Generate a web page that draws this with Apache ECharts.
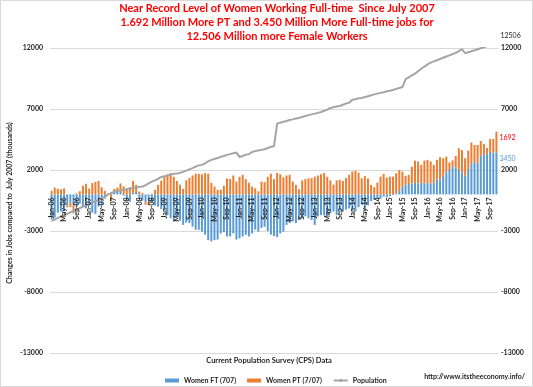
<!DOCTYPE html>
<html><head><meta charset="utf-8">
<script src="https://cdn.jsdelivr.net/npm/echarts@6/dist/echarts.min.js"></script>
<style>html,body{margin:0;padding:0;background:#fff}#c{width:533px;height:387px}</style>
</head><body><div id="c"></div>
<script>
// ---- data (thousands, change vs July 2007) ----
const years = ['06','07','08','09','10','11','12','13','14','15','16','17'];
const monthNames = ['Jan','Feb','Mar','Apr','May','Jun','Jul','Aug','Sep','Oct','Nov','Dec'];
const yTicks = [-13000, -8000, -3000, 2000, 7000, 12000];

const womenFT = [
 -2050,-1900,-1500,-1400,-1300,-900,-650,-900,-1000,-750,-1000,-1150,
 -900,-1500,-1600,-1000,-900,-350,0,150,250,300,200,-100,
 -450,-600,150,200,-300,-500,-650,-550,-700,-900,-1000,-1200,
 -1300,-1700,-1950,-2100,-1850,-2150,-2500,-2300,-2350,-2650,-2900,-2900,
 -3050,-3300,-3750,-3850,-3750,-3700,-3200,-3100,-3450,-3450,-3200,-3700,
 -3600,-3450,-3300,-3450,-3200,-2900,-3050,-2750,-2650,-3000,-3300,-3400,
 -3500,-3200,-3050,-2500,-2350,-2200,-2350,-2100,-1950,-1800,-1950,-2100,
 -2500,-1800,-1700,-1700,-1750,-1550,-1400,-1700,-1300,-1400,-1250,-1150,
 -1300,-1400,-1050,-800,-1250,-900,-550,-450,-300,-350,-180,-250,
 -150,-50,100,300,600,800,850,900,950,900,950,900,
 950,900,950,1300,1200,1520,1870,2000,2280,2200,2000,1800,
 1520,2000,2470,2690,2550,3150,3320,3300,3500,3420,3450
];
const womenPT = [
 300,560,450,420,500,-150,-400,-650,80,250,700,870,
 480,920,1020,1100,590,290,0,-560,200,250,700,650,
 500,590,950,590,230,100,-200,-320,60,370,780,1130,
 1500,1650,1750,1450,1100,800,450,1150,1350,1550,1700,1680,
 1650,1750,1700,950,650,380,380,700,1300,1250,1550,1050,
 1450,1600,1250,950,650,500,250,1050,1000,1450,1700,1250,
 1750,1650,1400,1550,1600,1050,780,420,1150,1250,1320,1330,
 1450,1550,1650,1750,1450,1150,800,1150,1200,1100,1350,1600,
 1870,1950,1790,1320,1500,1300,780,590,970,1460,1680,1380,
 1460,1460,1630,1700,1270,720,750,1380,1820,1790,1470,1870,
 1880,1800,1470,1530,1850,1440,1230,620,500,950,1780,1840,
 1440,1590,1780,1360,1500,1230,820,500,1050,1130,1692
];
const population = [
 -2170,-2060,-1930,-1820,-1700,-1590,-1470,-1350,-1240,-1130,-1010,-900,
 -780,-670,-560,-450,-330,-200,0,110,200,280,330,360,
 420,480,500,560,610,640,750,900,1050,1150,1280,1430,
 1480,1550,1600,1700,1720,1760,1850,1950,2050,2150,2280,2380,
 2420,2550,2700,2830,2900,2980,3080,3150,3240,3300,3380,3430,
 3070,3150,3250,3300,3480,3550,3600,3650,3700,3800,3900,3950,
 5800,5880,5950,6020,6100,6150,6220,6270,6350,6420,6500,6560,
 6620,6680,6750,6850,6950,7090,7150,7200,7250,7350,7450,7520,
 7750,7800,7880,7910,7980,8050,8120,8200,8260,8320,8380,8450,
 8500,8560,8650,8720,8800,9450,9600,9750,9900,10100,10300,10480,
 10650,10800,10900,11000,11100,11200,11300,11400,11500,11600,11750,11900,
 11570,11650,11730,11810,11900,11980,12060,12150,12250,12350,12506
];

const categories = [];
years.forEach(y => monthNames.forEach(m => categories.push(m + '-' + y)));
categories.length = womenFT.length;
const last = womenFT.length - 1;

const FONT = 'Lato, "Liberation Sans", sans-serif';
const GRID = {left: 50, right: 35, top: 48, bottom: 34};
const Y_MIN = -13000, Y_MAX = 12000;
const plotH = 387 - GRID.top - GRID.bottom;
const zeroFromBottom = plotH * (0 - Y_MIN) / (Y_MAX - Y_MIN);

const chart = echarts.init(document.getElementById('c'), null, {renderer: 'canvas'});
const yLabel = {customValues: yTicks, fontFamily: FONT, fontSize: 7, fontWeight: 'bold', color: '#262626',
  formatter: v => String(v)};
chart.setOption({
  animation: false,
  textStyle: {fontFamily: FONT},
  grid: Object.assign({containLabel: false, outerBoundsMode: 'none'}, GRID),
  legend: {
    left: 160, top: 372, itemWidth: 14, itemHeight: 4, itemGap: 11,
    textStyle: {fontFamily: FONT, fontSize: 7, fontWeight: 'bold', color: '#262626'},
    data: [{name: 'Women FT (707)', icon: 'rect'}, {name: 'Women PT (7/07)', icon: 'rect'}, {name: 'Population'}]
  },
  xAxis: {
    type: 'category', data: categories, boundaryGap: true, position: 'bottom',
    offset: -zeroFromBottom, z: 10,
    axisLine: {show: false, onZero: false},
    axisTick: {show: false},
    axisLabel: {interval: 3, rotate: 90, fontFamily: FONT, fontSize: 7, fontWeight: 'bold', color: '#262626', margin: 3}
  },
  yAxis: [
    {type: 'value', min: Y_MIN, max: Y_MAX, position: 'left',
     axisLine: {show: false, onZero: false}, axisTick: {show: false, customValues: yTicks},
     splitLine: {show: true, lineStyle: {color: '#d9d9d9', width: 1}},
     axisLabel: Object.assign({}, yLabel, {margin: 7})},
    {type: 'value', min: Y_MIN, max: Y_MAX, position: 'right',
     axisLine: {show: false, onZero: false}, axisTick: {show: false, customValues: yTicks},
     splitLine: {show: false},
     axisLabel: Object.assign({}, yLabel, {margin: 3})}
  ],
  series: [
    {name: 'Women FT (707)', type: 'bar', stack: 'jobs', data: womenFT, barWidth: 2,
     itemStyle: {color: '#5B9BD5'},
     label: {show: true, position: 'right', distance: 2, offset: [0, -15], fontSize: 7, color: '#5B9BD5', fontFamily: FONT,
       formatter: p => p.dataIndex === last ? String(p.value) : ''}},
    {name: 'Women PT (7/07)', type: 'bar', stack: 'jobs', data: womenPT, barWidth: 2,
     itemStyle: {color: '#ED7D31'},
     label: {show: true, position: 'right', distance: 2, offset: [0, -4], fontSize: 7, color: '#FF0000', fontFamily: FONT,
       formatter: p => p.dataIndex === last ? String(p.value) : ''}},
    {name: 'Population', type: 'line', data: population, symbol: 'none', z: 5,
     lineStyle: {color: '#A5A5A5', width: 2}, itemStyle: {color: '#A5A5A5'},
     endLabel: {show: true, fontSize: 7, color: '#262626', fontFamily: FONT, offset: [-4, -6],
       formatter: p => String(p.value)}}
  ],
  graphic: [
    {type: 'rect', shape: {x: 0.5, y: 0.5, width: 532, height: 386}, style: {fill: 'none', stroke: '#d9d9d9', lineWidth: 1}, silent: true},
    {type: 'text', x: 277, y: 8, style: {text: 'Near Record Level of Women Working Full-time  Since July 2007', fill: '#FF0000', font: 'bold 11px ' + FONT, textAlign: 'center', textVerticalAlign: 'middle'}},
    {type: 'text', x: 277, y: 22, style: {text: '1.692 Million More PT and 3.450 Million More Full-time jobs for', fill: '#FF0000', font: 'bold 11px ' + FONT, textAlign: 'center', textVerticalAlign: 'middle'}},
    {type: 'text', x: 277, y: 36, style: {text: '12.506 Million more Female Workers', fill: '#FF0000', font: 'bold 11px ' + FONT, textAlign: 'center', textVerticalAlign: 'middle'}},
    {type: 'text', x: 269, y: 361, style: {text: 'Current Population Survey (CPS) Data', fill: '#262626', font: 'bold 7.5px ' + FONT, textAlign: 'center', textVerticalAlign: 'middle'}},
    {type: 'text', x: 525, y: 377, style: {text: 'http://www.itstheeconomy.info/', fill: '#262626', font: 'bold 7px ' + FONT, textAlign: 'right', textVerticalAlign: 'middle'}},
    {type: 'text', x: 10, y: 203, rotation: Math.PI / 2, style: {text: 'Changes in Jobs compared to  July 2007 (thousands)', fill: '#262626', font: 'bold 7px ' + FONT, textAlign: 'center', textVerticalAlign: 'middle'}}
  ]
});
</script></body></html>
